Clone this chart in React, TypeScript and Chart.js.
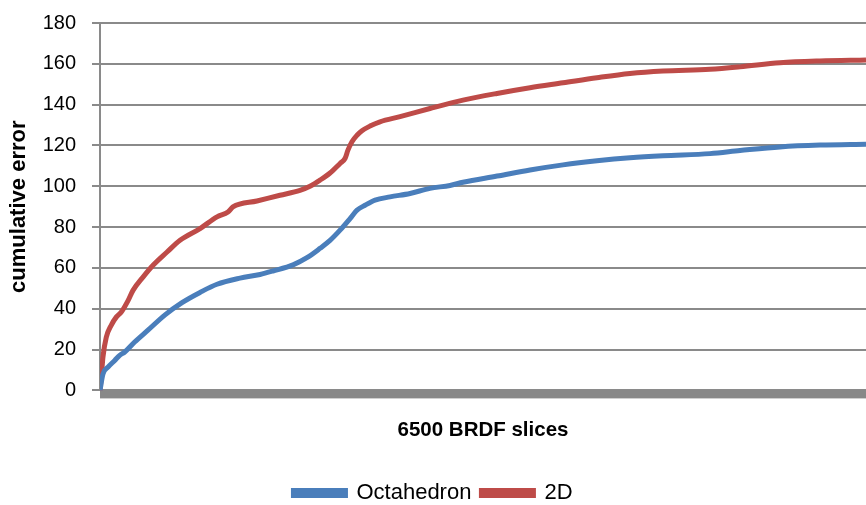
import React, { useEffect, useRef } from "react";
import { Chart, registerables } from "chart.js";

Chart.register(...registerables);

// x = slice index (0..6500), y = cumulative error
const octaSlices = [0, 25, 68, 125, 167, 210, 294, 407, 552, 696, 849, 993, 1188, 1358, 1468, 1638, 1756, 1867, 1952, 2037, 2122, 2181, 2249, 2334, 2461, 2631, 2800, 2970, 3080, 3369, 3649, 3929, 4217, 4497, 4777, 5176, 5431, 5770, 6110, 6500];
const octaValues = [0, 8, 11.4, 14.7, 17.2, 18.8, 23.7, 29.5, 37, 43, 48, 52, 55, 56.8, 58.5, 61.5, 65, 69.6, 73.5, 78.5, 84.2, 88.3, 90.7, 93.2, 94.8, 96.5, 99, 100.4, 102, 105, 108, 110.5, 112.5, 114, 115, 116, 117.5, 119.3, 120.2, 120.6];

const twoDSlices = [0, 11, 25, 53, 96, 138, 181, 238, 280, 365, 450, 569, 679, 849, 993, 1086, 1128, 1332, 1527, 1697, 1782, 1867, 1952, 2037, 2079, 2104, 2138, 2181, 2223, 2291, 2376, 2546, 2800, 3080, 3369, 3649, 3929, 4217, 4497, 4777, 5176, 5431, 5770, 6110, 6500];
const twoDValues = [0, 6.5, 16.3, 26, 32, 35.9, 38.4, 44, 49, 55.5, 61.3, 67.8, 73.6, 79.3, 85, 87.4, 89.9, 92.8, 95.6, 98, 100, 103, 106.5, 111.2, 113.6, 117.7, 121.8, 125, 127.2, 129.5, 131.6, 134.1, 138.1, 142.2, 145.5, 148.3, 150.7, 153.2, 155.3, 156.5, 157.3, 158.5, 160.5, 161.4, 161.9];

const seriesNames = ["Octahedron", "2D"];
const yTicks = { min: 0, max: 180, step: 20 };
const xTitle = "6500 BRDF slices";
const yTitle = "cumulative error";

const BLUE = "#4a7ebb";
const RED = "#be4b48";
const GRID = "#8a8a8a";
const FONT = "'Liberation Sans', Arial, sans-serif";

const thickAxis = {
  id: "thickAxis",
  beforeDatasetsDraw(chart: any) {
    const { ctx, chartArea, scales } = chart;
    const y0 = scales.y.getPixelForValue(0);
    ctx.save();
    ctx.fillStyle = "#888888";
    ctx.fillRect(chartArea.left, y0, chartArea.right - chartArea.left, 8);
    ctx.restore();
  },
};

export default function App() {
  const ref = useRef<HTMLCanvasElement | null>(null);
  useEffect(() => {
    document.body.style.margin = "0";
    const ctx = ref.current!.getContext("2d")!;
    const chart = new Chart(ctx, {
      type: "line",
      data: {
        datasets: [
          {
            label: seriesNames[0],
            data: octaSlices.map((x, i) => ({ x, y: octaValues[i] })),
            borderColor: BLUE,
            backgroundColor: BLUE,
            borderWidth: 5,
            pointRadius: 0,
            cubicInterpolationMode: "monotone",
          },
          {
            label: seriesNames[1],
            data: twoDSlices.map((x, i) => ({ x, y: twoDValues[i] })),
            borderColor: RED,
            backgroundColor: RED,
            borderWidth: 5,
            pointRadius: 0,
            cubicInterpolationMode: "monotone",
          },
        ],
      },
      plugins: [thickAxis],
      options: {
        responsive: false,
        animation: false,
        layout: { padding: { top: 23, right: 0, bottom: -9, left: 0 } },
        plugins: {
          tooltip: { enabled: false },
          legend: {
            position: "bottom",
            labels: {
              boxWidth: 52,
              boxHeight: 5,
              color: "#000",
              padding: 10,
              font: { family: FONT, size: 22 },
            },
          },
        },
        scales: {
          x: {
            type: "linear",
            min: 0,
            max: 6500,
            ticks: { display: false },
            grid: { display: false, drawTicks: false },
            border: { display: false },
            title: {
              display: true,
              text: xTitle,
              color: "#000",
              font: { family: FONT, size: 20.5, weight: "bold" },
              padding: { top: 28, bottom: 29 },
            },
          },
          y: {
            min: yTicks.min,
            max: yTicks.max,
            ticks: {
              stepSize: yTicks.step,
              color: "#000",
              padding: 16,
              font: { family: FONT, size: 20 },
            },
            grid: { color: GRID, lineWidth: 2, tickLength: 8 },
            border: { color: GRID, width: 2 },
            title: {
              display: true,
              text: yTitle,
              color: "#000",
              font: { family: FONT, size: 22, weight: "bold" },
              padding: { top: 6, bottom: 0 },
            },
            afterFit(scale: any) {
              scale.width = 100;
              scale.paddingTop = 0;
              scale.paddingBottom = 0;
            },
          },
        },
      },
    });
    return () => chart.destroy();
  }, []);
  return (
    <div style={{ position: "fixed", left: 0, top: 0, width: 866, height: 505 }}>
      <canvas ref={ref} width={866} height={505} />
    </div>
  );
}
